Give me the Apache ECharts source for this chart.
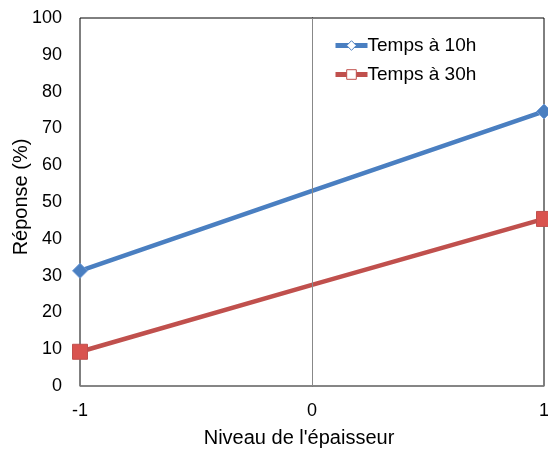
<!DOCTYPE html>
<html><head><meta charset="utf-8">
<script src="https://cdn.jsdelivr.net/npm/echarts@6/dist/echarts.min.js"></script>
<style>html,body{margin:0;padding:0;background:#fff}#c{width:548px;height:452px}</style>
</head><body><div id="c"></div>
<script>
const xLevels = [-1, 0, 1];
const temps10h = [31.3, 53.0, 74.6];
const temps30h = [9.3, 27.5, 45.4];
const seriesNames = ['Temps à 10h', 'Temps à 30h'];
const xTicks = [-1, 0, 1];

const font = 'Liberation Sans, Arial, sans-serif';
function pts(vals){ return xLevels.map((x,i)=>[x, vals[i]]); }
const endSym = (v, p) => (p.dataIndex === 1 ? 0 : 15);

const chart = echarts.init(document.getElementById('c'));
chart.setOption({
  animation: false,
  grid: {left: 80, right: 4, top: 18, bottom: 66, show: true, borderColor: '#000', borderWidth: 1,
    outerBoundsMode: 'none', containLabel: false},
  legend: {
    orient: 'vertical', left: 328, top: 31, itemGap: 10, itemWidth: 32, itemHeight: 12,
    textStyle: {fontFamily: font, fontSize: 19, color: '#000', padding: [0,0,0,-5]},
    data: [
      {name: seriesNames[0], itemStyle: {color: '#fff', borderColor: '#4a7fc1', borderWidth: 1},
        lineStyle: {width: 5}},
      {name: seriesNames[1], itemStyle: {color: '#fff', borderColor: '#c0504d', borderWidth: 1},
        lineStyle: {width: 5}}
    ]
  },
  xAxis: {
    type: 'value', min: -1, max: 1, interval: 1,
    name: "Niveau de l'épaisseur", nameLocation: 'middle', nameGap: 42, nameMoveOverlap: false,
    nameTextStyle: {fontFamily: font, fontSize: 20, color: '#000', padding: [0, 26, 0, 0]},
    axisLine: {show: true, lineStyle: {color: '#888', width: 1.5}},
    axisTick: {show: false}, splitLine: {show: false},
    axisLabel: {fontFamily: font, fontSize: 18, color: '#000', margin: 16,
      formatter: v => xTicks.includes(v) ? String(v) : ''}
  },
  yAxis: {
    type: 'value', min: 0, max: 100, interval: 10,
    name: 'Réponse (%)', nameLocation: 'middle', nameGap: 49, nameMoveOverlap: false,
    nameTextStyle: {fontFamily: font, fontSize: 20, color: '#000', padding: [0, 0, 0, 10]},
    axisLine: {show: true, lineStyle: {color: '#000', width: 1}},
    axisTick: {show: false}, splitLine: {show: false},
    axisLabel: {fontFamily: font, fontSize: 18, color: '#000', margin: 18}
  },
  series: [
    {
      name: seriesNames[0], type: 'line', data: pts(temps10h),
      symbol: 'diamond', symbolSize: endSym,
      lineStyle: {color: '#4a7fc1', width: 4.5},
      itemStyle: {color: '#4a7fc1', borderColor: '#6f9ad4', borderWidth: 1},
      markLine: {silent: true, symbol: 'none', label: {show: false},
        lineStyle: {color: '#888', width: 1, type: 'solid'}, data: [{xAxis: 0}]},
      z: 3
    },
    {
      name: seriesNames[1], type: 'line', data: pts(temps30h),
      symbol: 'rect', symbolSize: endSym,
      lineStyle: {color: '#c0504d', width: 4.5},
      itemStyle: {color: '#d9534f', borderColor: '#c0504d', borderWidth: 1},
      z: 3
    }
  ]
});
</script></body></html>
